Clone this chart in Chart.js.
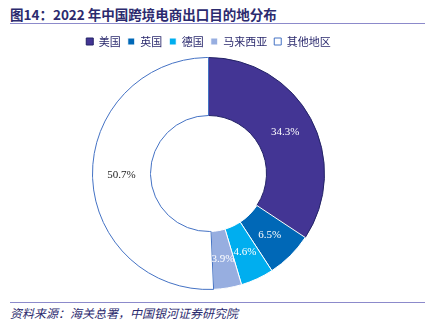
<!DOCTYPE html>
<html>
<head>
<meta charset="utf-8">
<script src="https://cdn.jsdelivr.net/npm/chart.js@4.4.0/dist/chart.umd.min.js"></script>
<style>
    body { margin: 0; background: #fff; width: 443px; height: 333px; position: relative; overflow: hidden; }
    #title { position: absolute; left: 10px; top: 4px; font: bold 13.5px "Noto Sans CJK SC", sans-serif; color: #2B2A6E; }
    #topline { position: absolute; left: 10px; top: 23px; width: 415px; height: 1px; background: #8C8ACB; }
    #chartbox { position: absolute; left: 0; top: 27px; width: 443px; height: 273px; }
    #bottomline { position: absolute; left: 10px; top: 302px; width: 415px; height: 1px; background: #8C8ACB; }
    #source { position: absolute; left: 10px; top: 304px; font: italic 12px "Noto Sans CJK SC", sans-serif; color: #2B2A6E; }
</style>
</head>
<body>
<div id="title">图14：2022 年中国跨境电商出口目的地分布</div>
<div id="topline"></div>
<div id="chartbox"><canvas id="DoughnutChart"></canvas></div>
<div id="bottomline"></div>
<div id="source">资料来源：海关总署，中国银河证券研究院</div>
<script>
const regions = ['美国', '英国', '德国', '马来西亚', '其他地区'];
const shares = [34.3, 6.5, 4.6, 3.9, 50.7];

// draws the percentage text in the middle of each slice
const sliceLabels = {
    id: 'sliceLabels',
    afterDatasetsDraw(chart) {
        const ctx = chart.ctx;
        const meta = chart.getDatasetMeta(0);
        ctx.save();
        ctx.font = '11px "Liberation Serif", serif';
        ctx.textAlign = 'center';
        ctx.textBaseline = 'middle';
        meta.data.forEach((arc, i) => {
            const p = arc.tooltipPosition();
            ctx.fillStyle = i === 4 ? '#222222' : '#ffffff';
            ctx.fillText(shares[i].toFixed(1) + '%', p.x, p.y);
        });
        ctx.restore();
    }
};

const doughnut_data = {
    labels: regions,
    datasets: [{
        data: shares,
        backgroundColor: ['#433594', '#0068B7', '#00AEEF', '#97AEE0', '#ffffff'],
        borderColor: ['#232366', '#ffffff', '#ffffff', '#ffffff', '#4472C4'],
        borderWidth: 1,
        hoverOffset: 0
    }]
};

const configDoughnut = {
    type: 'doughnut',
    data: doughnut_data,
    options: {
        responsive: true,
        maintainAspectRatio: false,
        animation: false,
        cutout: '50%',
        layout: { padding: { left: 0, right: 26, top: 2, bottom: 10 } },
        plugins: {
            legend: {
                position: 'top',
                labels: {
                    boxWidth: 7,
                    boxHeight: 7,
                    color: '#2B2A6E',
                    padding: 7,
                    font: { size: 11, family: '"Noto Sans CJK SC", sans-serif' }
                }
            },
            tooltip: { enabled: false }
        }
    },
    plugins: [sliceLabels]
};

const DoughnutChart = new Chart(
    document.getElementById('DoughnutChart'),
    configDoughnut
);
</script>
</body>
</html>
